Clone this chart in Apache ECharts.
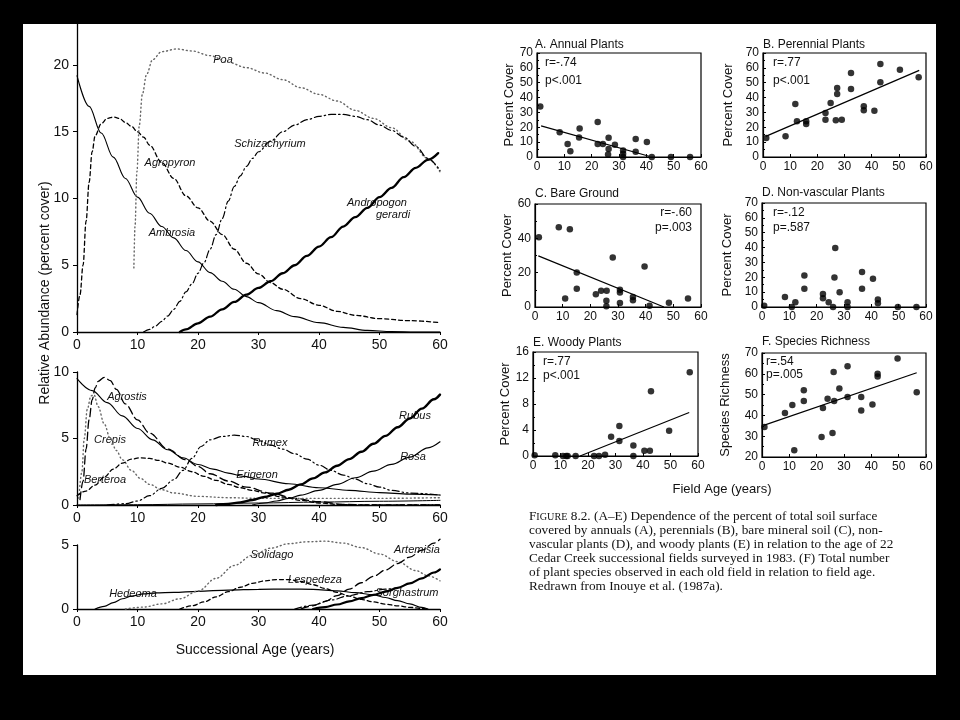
<!DOCTYPE html>
<html><head><meta charset="utf-8">
<script src="https://cdn.jsdelivr.net/npm/echarts@6/dist/echarts.min.js"></script>
<style>
html,body{margin:0;padding:0;background:#000;}
#paper{position:absolute;left:23px;top:24px;width:913px;height:651px;background:#fff;}
#chart{position:absolute;left:0;top:0;width:960px;height:720px;}
</style></head><body>
<div id="paper"></div><div id="chart"></div>
<script>
// ---------- Left panels: relative abundance curves (x = successional age, y = percent cover)
const xTicks = [0, 10, 20, 30, 40, 50, 60];
// Panel 1
const ambrosia = [[0,19.2],[2,16.9],[4,14.9],[6,13.1],[8,11.5],[10,10.1],[12,8.9],[14,7.9],[16,7.05],[18,6.1],[20,5.25],[22,4.45],[24,3.8],[26,3.2],[28,2.65],[30,2.2],[33,1.6],[36,1.15],[40,0.7],[44,0.35],[48,0.12],[52,0.03],[56,0],[60,0]];
const agropyron = [[0,1.3],[0.5,2.8],[1,5],[1.5,8.3],[2,11.2],[2.5,13.5],[3,14.7],[4,15.6],[5,16.0],[6,16.1],[7,16.0],[8,15.7],[9,15.4],[10,15.0],[11,14.6],[12,14.0],[14,12.7],[16,11.5],[18,10.2],[20,9.3],[22,8.3],[24,7.3],[26,6.2],[28,5.15],[30,4.35],[32,3.7],[34,3.2],[37,2.5],[40,2.0],[43,1.55],[46,1.25],[50,1.0],[55,0.85],[60,0.7]];
const poa = [[9.4,4.8],[9.6,8],[9.9,12],[10.3,15.5],[10.8,17.8],[11.5,19.3],[12.5,20.4],[14,21],[16.5,21.2],[19,21.05],[22,20.7],[25,20.2],[28,19.8],[31,19.4],[34,18.9],[37,18.3],[40,17.8],[43,17.3],[46,16.6],[49,16.0],[52,15.3],[55,14.3],[58,13.0],[60,12.0]];
const schizachyrium = [[11,0],[12,0.2],[13,0.45],[14,0.8],[15,1.2],[16,1.7],[17,2.3],[18,3.0],[19,3.6],[20,4.4],[21,5.2],[22,6.2],[23,7.3],[24,8.5],[25,9.8],[26,10.9],[27,11.7],[28,12.4],[29,13.0],[30,13.5],[32,14.3],[34,15.0],[36,15.5],[38,15.9],[40,16.15],[42,16.3],[44,16.3],[46,16.15],[48,15.9],[50,15.5],[52,15.1],[54,14.6],[56,13.9],[58,13.0],[60,12.1]];
const andropogonGerardi = [[17,0],[18,0.2],[20,0.65],[22,1.15],[24,1.7],[26,2.25],[28,2.8],[30,3.3],[32,3.8],[34,4.4],[36,5.0],[38,5.7],[40,6.4],[42,7.1],[44,7.9],[46,8.6],[48,9.3],[50,10.1],[52,10.8],[54,11.6],[56,12.3],[58,12.9],[59.7,13.4]];
// Panel 2
const erigeron = [[0,9.5],[2.5,8.6],[5,7.7],[7.5,6.7],[10,5.75],[12.5,4.9],[15,4.15],[17.5,3.55],[20,3.05],[22.5,2.7],[25,2.4],[27.5,2.15],[30,1.95],[35,1.6],[40,1.3],[45,1.1],[50,0.93],[55,0.82],[60,0.75]];
const agrostis = [[0.5,0.4],[1,1.8],[1.5,4.2],[2,6.4],[2.5,7.9],[3,8.8],[3.5,9.3],[4.5,9.6],[5.5,9.35],[6.5,8.7],[8,7.6],[10,6.4],[12,5.4],[15,4.2],[18,3.4],[20,2.9],[22,2.35],[25,1.8],[28,1.35],[32,0.9],[36,0.5],[40,0.25],[44,0.05],[48,0],[60,0]];
const crepis = [[0.3,0.5],[0.8,2.5],[1.2,5],[1.7,7.2],[2.3,8.2],[2.8,8.3],[3.5,7.4],[4.5,6.1],[5.5,5.0],[6.5,4.1],[7.5,3.4],[9,2.6],[10.5,2.0],[12,1.55],[14,1.15],[16,0.9],[20,0.65],[25,0.55],[30,0.5],[40,0.5],[50,0.5],[60,0.55]];
const berteroa = [[0,0.7],[1.5,1.05],[3,1.5],[4.5,2.1],[6,2.7],[7.5,3.15],[9,3.45],[10.5,3.55],[12,3.5],[13.5,3.35],[15,3.15],[17,2.85],[19,2.5],[21,2.15],[23,1.85],[25,1.55],[27,1.3],[29,1.1],[31,0.9],[34,0.6],[37,0.35],[40,0.15],[43,0.05],[46,0],[60,0]];
const rumex = [[5,0],[8,0.1],[10,0.3],[12,0.7],[14,1.25],[16,1.9],[17.5,2.6],[19,3.5],[20.5,4.4],[22,4.9],[24,5.15],[26,5.25],[28,5.15],[30,4.85],[32,4.5],[34,4.2],[36,3.85],[38,3.45],[40,3.0],[42,2.6],[44,2.25],[46,1.95],[48,1.6],[50,1.35],[52,1.1],[55,0.9],[60,0.75]];
const rubus = [[23,0],[25,0.08],[27,0.2],[29,0.38],[31,0.6],[33,0.85],[35,1.15],[37,1.55],[39,2.0],[41,2.45],[43,2.95],[45,3.45],[47,4.0],[49,4.6],[51,5.2],[53,5.85],[55,6.5],[57,7.25],[59,7.95],[60,8.3]];
const rosa = [[29,0],[31,0.15],[33,0.3],[35,0.5],[37,0.75],[40,1.1],[43,1.55],[46,2.05],[49,2.55],[52,3.05],[55,3.6],[58,4.3],[60,4.75]];
const lowSolid2 = [[0,0],[10,0.02],[20,0.08],[30,0.15],[40,0.22],[50,0.28],[60,0.35]];
// Panel 3
const hedeoma = [[3,0],[4.5,0.2],[6,0.5],[7.5,0.8],[9,1.0],[11,1.18],[13,1.26],[16,1.3],[20,1.38],[25,1.48],[30,1.54],[35,1.56],[39,1.54],[43,1.42],[46,1.28],[49,1.1],[51,0.9],[53,0.65],[55,0.4],[57,0.12],[58,0]];
const lespedeza = [[17,0],[19,0.25],[21,0.55],[23,0.95],[25,1.35],[27,1.7],[29,2.0],[31,2.2],[33,2.3],[35,2.3],[37,2.15],[39,1.9],[41,1.6],[43,1.3],[45,1.0],[47,0.75],[49,0.55],[51,0.38],[53,0.25],[55,0.13],[57,0.04],[58,0]];
const solidago = [[8,0],[11,0.15],[14,0.4],[17,0.8],[20,1.4],[23,2.4],[26,3.4],[29,4.2],[32,4.75],[35,5.1],[38,5.25],[41,5.3],[44,5.15],[47,4.8],[50,4.3],[53,3.7],[56,3.0],[58,2.6],[60,2.2]];
const artemisia = [[37,0],[39,0.25],[41,0.6],[43,1.05],[45,1.55],[47,2.05],[49,2.55],[51,3.05],[53,3.55],[55,4.05],[57,4.6],[59,5.15],[60,5.45]];
const sorghastrum = [[36,0],[39,0.3],[42,0.7],[45,1.05],[48,1.35],[51,1.55],[53,1.65]];
const thick3 = [[39,0],[41,0.15],[43,0.35],[45,0.6],[47,0.85],[49,1.1],[51,1.35],[53,1.65],[55,2.0],[57,2.4],[59,2.85],[60,3.1]];

// ---------- Right panels: field data for 22 Cedar Creek fields
const annualPts = [[1.2,34],[8.3,16.6],[11.2,8.8],[12.2,3.8],[15.6,19.1],[15.4,13.2],[22.2,23.6],[22.2,8.8],[24.1,8.8],[26.2,13],[26.2,5.4],[26,1.6],[28.5,8.3],[31.5,2.2],[31.5,4.3],[31.5,0],[36.1,12.1],[36.1,3.6],[40.2,10.1],[42,0],[49,0],[56,0]];
const annualFit = [[1.5,21],[41,0.5]];
const perennialPts = [[1.2,12.8],[8.3,13.9],[11.9,35.7],[12.5,24],[15.9,24],[15.9,22.2],[23,29.6],[23,25.1],[24.9,36.3],[26.8,24.7],[27.3,46.4],[27.3,42.4],[29,25.1],[32.4,56.5],[32.4,45.8],[37.1,34.1],[37.1,31.4],[41,31.2],[43.2,62.6],[43.2,50.3],[50.4,58.8],[57.3,53.6]];
const perennialFit = [[1,13.9],[57.5,58.3]];
const bareGroundPts = [[1.4,40.6],[8.6,46.4],[12.6,45.3],[10.9,5],[15.1,20.1],[15.1,10.6],[22,7.4],[23.9,9.5],[25.9,9.5],[25.8,3.7],[25.8,0.4],[28.1,28.8],[30.7,8.5],[30.7,10],[30.7,2.3],[35.4,5.8],[35.4,3.9],[39.6,23.6],[41.4,0.8],[48.4,2.5],[55.3,5]];
const bareGroundFit = [[1.2,29.8],[46.6,0]];
const nonvascularPts = [[0.8,0.9],[8.4,6.8],[10.9,0],[12.2,3.2],[15.5,21.2],[15.5,12.2],[22.3,8.8],[22.3,5.9],[24.4,3.2],[26,0],[26.8,39.7],[26.5,19.9],[28.4,9.9],[31.3,3.2],[31.3,0],[36.6,23.5],[36.6,12.2],[40.6,19],[42.4,5],[42.4,2.5],[49.7,0],[56.5,0]];
const woodyPts = [[0.6,0.1],[8.1,0.1],[10.9,0],[12.1,0],[12.6,0],[15.5,0],[22.2,0],[24,0],[26.2,0.2],[28.4,2.97],[31.4,4.6],[31.4,2.3],[36.5,1.6],[36.5,0],[40.5,0.8],[42.5,0.8],[42.9,9.97],[49.5,3.9],[57,12.9]];
const woodyFit = [[17.1,0],[56.8,6.7]];
const richnessPts = [[0.9,34.4],[8.4,41.2],[11.1,45],[11.8,23.2],[15.3,46.9],[15.3,52.1],[21.8,29.6],[22.3,43.5],[24,48],[25.8,31.5],[26.2,60.9],[26.4,46.9],[28.3,52.9],[31.3,63.6],[31.3,48.8],[36.3,48.8],[36.3,42.4],[40.4,45.3],[42.3,60],[42.3,58.7],[49.6,67.4],[56.6,51.1]];
const richnessFit = [[0.6,35.2],[56.6,60.5]];

const captionLines = [
  '{sc1|F}{sc2|IGURE} 8.2. (A–E) Dependence of the percent of total soil surface',
  'covered by annuals (A), perennials (B), bare mineral soil (C), non-',
  'vascular plants (D), and woody plants (E) in relation to the age of 22',
  'Cedar Creek successional fields surveyed in 1983. (F) Total number',
  'of plant species observed in each old field in relation to field age.',
  'Redrawn from Inouye et al. (1987a).'
];

// ---------- Build the option
const SANS = 'Liberation Sans, Arial, Helvetica, sans-serif';
const grids = [
  {left:77, top:24, width:363, height:308},
  {left:77, top:372, width:363, height:133},
  {left:77, top:545, width:363, height:64},
  {left:537, top:53, width:164, height:104, show:true, borderColor:'#000', borderWidth:1.2},
  {left:763, top:53, width:163, height:104, show:true, borderColor:'#000', borderWidth:1.2},
  {left:535, top:204, width:166, height:103, show:true, borderColor:'#000', borderWidth:1.2},
  {left:762, top:203, width:164, height:104, show:true, borderColor:'#000', borderWidth:1.2},
  {left:533, top:352, width:165, height:104, show:true, borderColor:'#000', borderWidth:1.2},
  {left:762, top:353, width:164, height:104, show:true, borderColor:'#000', borderWidth:1.2}
];
function leftX(i){
  return {gridIndex:i, type:'value', min:0, max:60, interval:10,
    axisLine:{onZero:false, lineStyle:{color:'#000', width:1.3}},
    axisTick:{length:3, lineStyle:{color:'#000'}},
    axisLabel:{color:'#111', fontSize:14, margin:6, fontFamily:SANS},
    splitLine:{show:false}};
}
function leftY(i, max, ticks){
  return {gridIndex:i, type:'value', min:0, max:max, interval:5,
    axisLine:{show:true, onZero:false, lineStyle:{color:'#000', width:1.3}},
    axisTick:{show:true, length:4, lineStyle:{color:'#000'}, customValues:ticks},
    axisLabel:{color:'#111', fontSize:14, margin:8, fontFamily:SANS, customValues:ticks,
      formatter:v => (ticks.indexOf(v) >= 0 ? String(v) : '')},
    splitLine:{show:false}};
}
function sX(i){
  return {gridIndex:i, type:'value', min:0, max:60, interval:10,
    axisLine:{onZero:false, lineStyle:{color:'#000', width:1.2}},
    axisTick:{inside:true, length:3, lineStyle:{color:'#000'}},
    axisLabel:{color:'#111', fontSize:12, margin:4, fontFamily:SANS},
    splitLine:{show:false}};
}
function sY(i, min, max, interval, name, gap){
  return {gridIndex:i, type:'value', min:min, max:max, interval:interval,
    name:name, nameLocation:'middle', nameGap:gap,
    nameTextStyle:{color:'#111', fontSize:13, fontFamily:SANS},
    axisLine:{show:true, onZero:false, lineStyle:{color:'#000', width:1.2}},
    axisTick:{show:true, inside:true, length:3, lineStyle:{color:'#000'}},
    minorTick:{show:true, splitNumber:2, length:2, lineStyle:{color:'#000'}},
    axisLabel:{color:'#111', fontSize:12, margin:4, fontFamily:SANS},
    splitLine:{show:false}};
}
const xAxes = [leftX(0), leftX(1), leftX(2), sX(3), sX(4), sX(5), sX(6), sX(7), sX(8)];
const yAxes = [
  leftY(0, 23.07, [0,5,10,15,20]), leftY(1, 10, [0,5,10]), leftY(2, 5, [0,5]),
  sY(3, 0, 70, 10, 'Percent Cover', 19), sY(4, 0, 70, 10, 'Percent Cover', 28),
  sY(5, 0, 60, 20, 'Percent Cover', 19), sY(6, 0, 70, 10, 'Percent Cover', 28),
  sY(7, 0, 16, 4, 'Percent Cover', 19), sY(8, 20, 70, 10, 'Species Richness', 30)
];

const DOT = [1, 3];
const SHORT = [4, 3];
const LONG = [8, 4];
const DASHDOT = [7, 3, 1.5, 3];
const DASHDOTDOT = [7, 3, 1.5, 3, 1.5, 3];
function curve(name, data, g, width, type, color){
  return {name:name, type:'line', xAxisIndex:g, yAxisIndex:g, data:data, clip:false,
    showSymbol:false, symbol:'none', smooth:0.35, smoothMonotone:'x', silent:true,
    lineStyle:{color:color || '#000', width:width, type:type || 'solid', cap:'round'}, z:3};
}
function dots(name, data, g){
  return {name:name, type:'scatter', xAxisIndex:g, yAxisIndex:g, data:data,
    symbol:'circle', symbolSize:6.5, itemStyle:{color:'#000'}, silent:true, z:4};
}
function fit(name, data, g){
  return {name:name, type:'line', xAxisIndex:g, yAxisIndex:g, data:data,
    showSymbol:false, symbol:'none', silent:true, lineStyle:{color:'#000', width:1.2}, z:3};
}
const series = [
  curve('Ambrosia', ambrosia, 0, 1.1),
  curve('Agropyron', agropyron, 0, 1.3, SHORT),
  curve('Poa', poa, 0, 1.4, DOT, '#666'),
  curve('Schizachyrium', schizachyrium, 0, 1.2, DASHDOT),
  curve('Andropogon gerardi', andropogonGerardi, 0, 2.3),
  curve('Erigeron', erigeron, 1, 1.1),
  curve('Agrostis', agrostis, 1, 1.3, LONG),
  curve('Crepis', crepis, 1, 1.4, DOT, '#666'),
  curve('Berteroa', berteroa, 1, 1.3, SHORT),
  curve('Rumex', rumex, 1, 1.2, DASHDOTDOT),
  curve('Rubus', rubus, 1, 2.4),
  curve('Rosa', rosa, 1, 1.2),
  curve('low', lowSolid2, 1, 1.0),
  curve('Hedeoma', hedeoma, 2, 1.2),
  curve('Lespedeza', lespedeza, 2, 1.3, SHORT),
  curve('Solidago', solidago, 2, 1.4, DOT, '#666'),
  curve('Artemisia', artemisia, 2, 1.3, LONG),
  curve('Sorghastrum', sorghastrum, 2, 1.2, DASHDOT),
  curve('thick', thick3, 2, 2.2),
  dots('Annual Plants', annualPts, 3), fit('Annual fit', annualFit, 3),
  dots('Perennial Plants', perennialPts, 4), fit('Perennial fit', perennialFit, 4),
  dots('Bare Ground', bareGroundPts, 5), fit('Bare fit', bareGroundFit, 5),
  dots('Non-vascular Plants', nonvascularPts, 6),
  dots('Woody Plants', woodyPts, 7), fit('Woody fit', woodyFit, 7),
  dots('Species Richness', richnessPts, 8), fit('Richness fit', richnessFit, 8)
];

const IT = 'italic 11px ' + SANS;
function t(text, x, y, font, align, extra){
  return Object.assign({type:'text', x:x, y:y, silent:true,
    style:{text:text, font:font, fill:'#111', align:align || 'center', verticalAlign:'middle'}}, extra || {});
}
const graphics = [
  t('Relative Abundance (percent cover)', 45, 293, '14px ' + SANS, 'center', {rotation:Math.PI/2}),
  t('Successional Age (years)', 255, 650, '14px ' + SANS),
  t('Poa', 223, 60, IT), t('Schizachyrium', 270, 144, IT), t('Agropyron', 170, 163, IT),
  t('Ambrosia', 172, 233, IT), t('Andropogon', 377, 203, IT), t('gerardi', 393, 215, IT),
  t('Agrostis', 127, 397, IT), t('Crepis', 110, 440, IT), t('Berteroa', 105, 480, IT),
  t('Rumex', 270, 443, IT), t('Erigeron', 257, 475, IT), t('Rubus', 415, 416, IT), t('Rosa', 413, 457, IT),
  t('Solidago', 272, 555, IT), t('Lespedeza', 315, 580, IT), t('Hedeoma', 133, 594, IT),
  t('Artemisia', 417, 550, IT), t('Sorghastrum', 407, 593, IT),
  t('A. Annual Plants', 535, 45, '12px ' + SANS, 'left'),
  t('B. Perennial Plants', 763, 45, '12px ' + SANS, 'left'),
  t('C. Bare Ground', 535, 194, '12px ' + SANS, 'left'),
  t('D. Non-vascular Plants', 762, 193, '12px ' + SANS, 'left'),
  t('E. Woody Plants', 533, 343, '12px ' + SANS, 'left'),
  t('F. Species Richness', 762, 342, '12px ' + SANS, 'left'),
  t('r=-.74', 545, 63, '12px ' + SANS, 'left'), t('p<.001', 545, 81, '12px ' + SANS, 'left'),
  t('r=.77', 773, 63, '12px ' + SANS, 'left'), t('p<.001', 773, 81, '12px ' + SANS, 'left'),
  t('r=-.60', 692, 213, '12px ' + SANS, 'right'), t('p=.003', 692, 228, '12px ' + SANS, 'right'),
  t('r=-.12', 773, 213, '12px ' + SANS, 'left'), t('p=.587', 773, 228, '12px ' + SANS, 'left'),
  t('r=.77', 543, 362, '12px ' + SANS, 'left'), t('p<.001', 543, 376, '12px ' + SANS, 'left'),
  t('r=.54', 766, 362, '12px ' + SANS, 'left'), t('p=.005', 766, 375, '12px ' + SANS, 'left'),
  t('Field Age (years)', 722, 489, '13px ' + SANS)
];
const SERIF = 'Liberation Serif, Times New Roman, serif';
captionLines.forEach((line, k) => {
  graphics.push({type:'text', x:529, y:517 + k*14, silent:true,
    style:{text:line, font:'13.25px ' + SERIF, fill:'#111', align:'left', verticalAlign:'middle',
      rich:{sc1:{font:'13.25px ' + SERIF, fill:'#111'}, sc2:{font:'10.2px ' + SERIF, fill:'#111'}}}});
});

const chart = echarts.init(document.getElementById('chart'), null, {renderer:'canvas'});
chart.setOption({
  backgroundColor:'transparent',
  animation:false,
  grid:grids, xAxis:xAxes, yAxis:yAxes, series:series, graphic:graphics
});
</script></body></html>
